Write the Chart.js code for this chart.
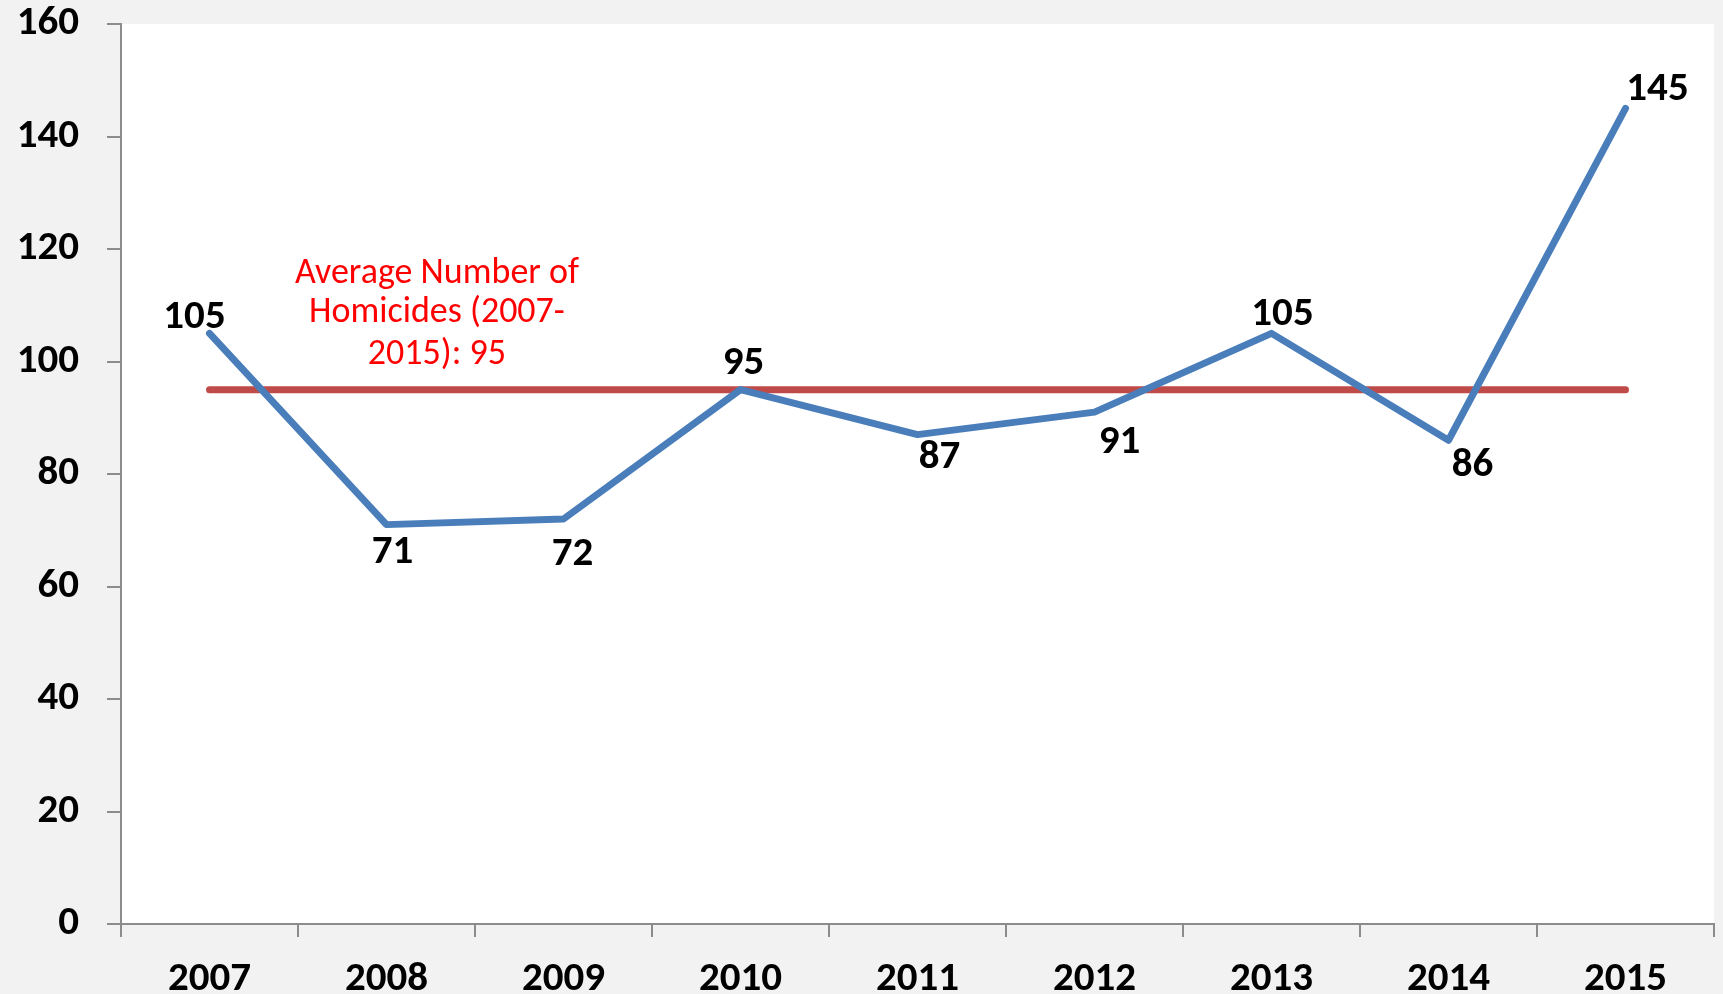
<!DOCTYPE html>
<html>
<head>
<meta charset="utf-8">
<script src="https://cdn.jsdelivr.net/npm/chart.js@4/dist/chart.umd.min.js"></script>
<style>
  html,body{margin:0;padding:0;background:#f2f2f2;}
  #wrap{width:1723px;height:994px;position:relative;}
</style>
</head>
<body>
<div id="wrap"><canvas id="chart"></canvas></div>
<script>
// data
const years = ['2007','2008','2009','2010','2011','2012','2013','2014','2015'];
const homicides = [105, 71, 72, 95, 87, 91, 105, 86, 145];
const average = [95, 95, 95, 95, 95, 95, 95, 95, 95];
const yMin = 0, yMax = 160, yStep = 20;
const noteLines = ['Average Number of', 'Homicides (2007-', '2015): 95'];

const FONT = 'Carlito, Lato, "Open Sans", sans-serif';

// baseline offsets of the value labels from their point (px)
const labelOffsets = [
  [-15,-5],[6,38],[9,46],[3,-16],[22,33],[25,41],[11,-8],[24,36],[32,-8]
];

const bgPlugin = {
  id:'bg',
  beforeDraw(c){
    const {ctx, chartArea:a} = c;
    ctx.save();
    ctx.fillStyle = '#f2f2f2';
    ctx.fillRect(0,0,c.width,c.height);
    ctx.fillStyle = '#ffffff';
    ctx.fillRect(a.left,a.top,a.right-a.left,a.bottom-a.top);
    ctx.restore();
  }
};

const valueLabels = {
  id:'valueLabels',
  afterDatasetsDraw(c){
    const ctx = c.ctx, meta = c.getDatasetMeta(0);
    ctx.save();
    ctx.font = 'bold 41px ' + FONT;
    ctx.fillStyle = '#000';
    ctx.textAlign = 'center';
    ctx.textBaseline = 'alphabetic';
    meta.data.forEach((pt,i)=>{
      const o = labelOffsets[i];
      ctx.fillText(String(homicides[i]), pt.x+o[0], pt.y+o[1]);
    });
    // average note
    const x = c.scales.x.getPixelForValue(1.285);
    const y = c.scales.y;
    ctx.font = '36px ' + FONT;
    ctx.fillStyle = '#ff0000';
    [114, 107, 99.6].forEach((v,i)=>ctx.fillText(noteLines[i], x, y.getPixelForValue(v)));
    ctx.restore();
  }
};

new Chart(document.getElementById('chart'),{
  type:'line',
  data:{labels:years,datasets:[
    {label:'Homicides',data:homicides,borderColor:'#4a7ebb',borderWidth:7,pointRadius:0,
     borderCapStyle:'round',borderJoinStyle:'round',tension:0,order:1},
    {label:'Average',data:average,borderColor:'#be4b48',borderWidth:7,pointRadius:0,
     borderCapStyle:'round',tension:0,order:2}
  ]},
  options:{responsive:true,maintainAspectRatio:false,animation:false,
    layout:{padding:{top:24,right:9,left:0,bottom:0}},
    plugins:{legend:{display:false},tooltip:{enabled:false}},
    scales:{
      x:{offset:true,
        grid:{offset:true,drawOnChartArea:false,tickLength:13,color:'#8c8c8c',lineWidth:2},
        border:{color:'#8c8c8c',width:2},
        ticks:{color:'#000',font:{family:FONT,size:41,weight:'bold'},padding:18,maxRotation:0},
        afterFit:s=>{s.height=70;s.paddingLeft=0;s.paddingRight=0;}},
      y:{min:yMin,max:yMax,
        grid:{drawOnChartArea:false,tickLength:14,color:'#8c8c8c',lineWidth:2},
        border:{color:'#8c8c8c',width:2},
        ticks:{stepSize:yStep,color:'#000',font:{family:FONT,size:41,weight:'bold'},padding:28},
        afterFit:s=>{s.width=121;s.paddingTop=0;s.paddingBottom=0;}}
    }
  },
  plugins:[bgPlugin,valueLabels]
});
</script>
</body>
</html>
